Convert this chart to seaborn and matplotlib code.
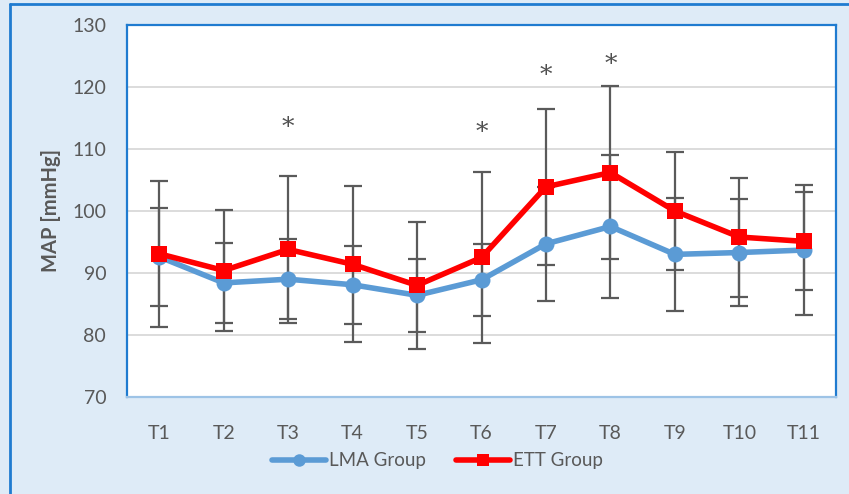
import numpy as np
import pandas as pd
import matplotlib
matplotlib.use("Agg")
import matplotlib.pyplot as plt
import matplotlib.transforms as mtransforms
import seaborn as sns
from matplotlib.lines import Line2D

# ---- data ----
timepoints = ["T1", "T2", "T3", "T4", "T5", "T6", "T7", "T8", "T9", "T10", "T11"]
lma_mean = [92.6, 88.4, 89.0, 88.1, 86.4, 88.9, 94.7, 97.5, 93.0, 93.3, 93.7]
lma_sd = [7.9, 6.5, 6.5, 6.3, 5.9, 5.8, 9.2, 11.5, 9.1, 8.7, 10.5]
ett_mean = [93.1, 90.4, 93.8, 91.4, 88.0, 92.5, 103.9, 106.2, 100.0, 95.8, 95.1]
ett_sd = [11.8, 9.8, 11.9, 12.6, 10.2, 13.8, 12.6, 13.9, 9.5, 9.6, 7.9]
sig_points = ["T3", "T6", "T7", "T8"]
sig_y = [114.4, 113.6, 122.9, 124.7]
series_names = ["LMA Group", "ETT Group"]
y_label = "MAP [mmHg]"

df = pd.DataFrame({
    "time": timepoints * 2,
    "MAP": lma_mean + ett_mean,
    "SD": lma_sd + ett_sd,
    "group": [series_names[0]] * len(timepoints) + [series_names[1]] * len(timepoints),
})

# ---- style ----
sns.set_theme(style="white")
plt.rcParams["font.family"] = ["Lato", "DejaVu Sans"]

BG = "#DEEBF7"
BLUE = "#5B9BD5"
RED = "#FF0000"
TXT = "#595959"
FRAME = "#1F7BD0"

fig = plt.figure(figsize=(8.49, 4.94), dpi=100, facecolor=BG)
ax = fig.add_axes([0.1496, 0.1964, 0.9847 - 0.1496, 0.9494 - 0.1964])
ax.set_facecolor("white")

# error bars (behind lines)
xpos = np.arange(len(timepoints))
for means, sds in [(lma_mean, lma_sd), (ett_mean, ett_sd)]:
    ax.errorbar(xpos, means, yerr=sds, fmt="none", ecolor="#5A5A5A",
                elinewidth=1.6, capsize=6.5, capthick=1.6, zorder=2)

sns.lineplot(data=df, x="time", y="MAP", hue="group", style="group",
             palette={series_names[0]: BLUE, series_names[1]: RED},
             markers={series_names[0]: "o", series_names[1]: "s"},
             dashes=False, linewidth=4, markersize=11.5, markeredgewidth=0,
             sort=False, ax=ax, legend=False, zorder=3)

# significance asterisks
star_tr = ax.transData + mtransforms.ScaledTranslation(0, -4.5 / 72, fig.dpi_scale_trans)
for t, yv in zip(sig_points, sig_y):
    ax.text(timepoints.index(t), yv, "*", ha="center", va="center",
            fontsize=18, color="#505050", family="DejaVu Serif", zorder=4,
            transform=star_tr)

ax.set_xlim(-0.5, len(timepoints) - 0.5)
ax.set_ylim(70, 130)
ax.set_yticks(np.arange(70, 131, 10))
ax.yaxis.grid(True, color="#D9D9D9", linewidth=1.3)
ax.xaxis.grid(False)
ax.set_axisbelow(True)
ax.tick_params(axis="both", length=0, labelsize=14, labelcolor=TXT)
ax.tick_params(axis="y", pad=15)
ax.tick_params(axis="x", pad=20)
ax.set_xlabel("")
ax.set_ylabel(y_label, fontsize=14.5, fontweight="bold", color=TXT, labelpad=8)

for side in ["left", "top", "right"]:
    ax.spines[side].set_color(FRAME)
    ax.spines[side].set_linewidth(1.6)
ax.spines["bottom"].set_color("#9DC3E6")
ax.spines["bottom"].set_linewidth(1.6)

# legend
handles = [
    Line2D([], [], color=BLUE, lw=4, marker="o", markersize=9, markeredgewidth=0),
    Line2D([], [], color=RED, lw=4, marker="s", markersize=9, markeredgewidth=0),
]
fig.legend(handles, series_names, loc="center", bbox_to_anchor=(0.515, 0.067),
           ncol=2, frameon=False, fontsize=13.5, labelcolor=TXT,
           handlelength=2.9, handletextpad=0.15, columnspacing=1.6)

# outer frame lines (left and top)
fig.add_artist(Line2D([0.0118, 0.0118], [0, 0.992], transform=fig.transFigure,
                      color=FRAME, lw=2))
fig.add_artist(Line2D([0.0118, 1.0], [0.992, 0.992], transform=fig.transFigure,
                      color=FRAME, lw=2))

fig.savefig("out.png", dpi=100, facecolor=BG)
